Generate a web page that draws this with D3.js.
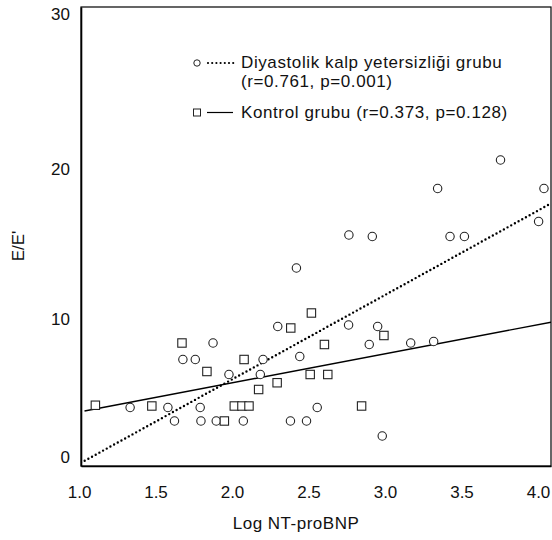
<!DOCTYPE html>
<html>
<head>
<meta charset="utf-8">
<script src="https://cdn.jsdelivr.net/npm/d3@7"></script>
<style>
  body { margin: 0; background: #fff; }
  svg text { font-family: "Liberation Sans", Arial, sans-serif; fill: #111; }
</style>
</head>
<body>
<div id="chart"></div>
<script>
// Diyastolik kalp yetersizliği grubu (circles)
var dkyX = [1.876, 1.679, 1.760, 1.980, 1.334, 1.581, 1.792, 1.624, 1.797, 1.897,
            2.764, 2.917, 2.421, 2.299, 2.762, 2.952, 2.897, 2.443, 2.203, 2.185,
            2.557, 2.074, 2.382, 2.487, 2.982, 3.755, 3.344, 4.039, 3.425, 3.519,
            4.004, 3.168, 3.318];
var dkyY = [8.4, 7.3, 7.3, 6.3, 4.1, 4.1, 4.1, 3.2, 3.2, 3.2,
            15.6, 15.5, 13.4, 9.5, 9.6, 9.5, 8.3, 7.5, 7.3, 6.3,
            4.1, 3.2, 3.2, 3.2, 2.2, 20.6, 18.7, 18.7, 15.5, 15.5,
            16.5, 8.4, 8.5];

// Kontrol grubu (squares)
var kontrolX = [1.673, 1.836, 1.107, 1.476, 1.950, 2.519, 2.384, 2.993, 2.604, 2.079,
                2.511, 2.626, 2.295, 2.174, 2.015, 2.065, 2.111, 2.847];
var kontrolY = [8.4, 6.5, 4.25, 4.2, 3.2, 10.4, 9.4, 8.9, 8.3, 7.3,
                6.3, 6.3, 5.75, 5.3, 4.2, 4.2, 4.2, 4.2];

// fit lines: intercept, slope
var fitDky = [-5.29, 5.63];
var fitKontrol = [1.86, 1.94];

var xTicks = [1.0, 1.5, 2.0, 2.5, 3.0, 3.5, 4.0];
var yTicks = [0, 10, 20, 30];

var w = 552, h = 540;
var fs = 17;
var svg = d3.select("#chart").append("svg")
    .attr("width", w)
    .attr("height", h);

var xScale = d3.scaleLinear().domain([1.013, 4.085]).range([81, 551]);
var yScale = d3.scaleLinear().domain([0.2, 30.8]).range([466, 7]);

// frame
svg.append("rect")
    .attr("x", 81).attr("y", 7)
    .attr("width", 470).attr("height", 459)
    .attr("fill", "none").attr("stroke", "#000").attr("stroke-width", 1.2);

// axes
var xAxis = d3.axisBottom(xScale).tickValues(xTicks).tickSize(0)
    .tickFormat(d3.format(".1f"));
var gx = svg.append("g").attr("transform", "translate(0,466)").call(xAxis);
gx.select(".domain").attr("stroke", "#000").attr("stroke-width", 1.6);
gx.selectAll("text").attr("font-size", fs).attr("y", 20).attr("dy", "0.71em")
    .attr("font-family", "Liberation Sans, Arial, sans-serif").attr("fill", "#111");

var yAxis = d3.axisLeft(yScale).tickValues(yTicks).tickSize(0);
var gy = svg.append("g").attr("transform", "translate(81,0)").call(yAxis);
gy.select(".domain").attr("stroke", "#000").attr("stroke-width", 1.6);
gy.selectAll("text").attr("font-size", fs).attr("x", -11)
    .attr("font-family", "Liberation Sans, Arial, sans-serif").attr("fill", "#111")
    .attr("dy", function(d) { return d === 0 ? "-0.4em" : (d === 30 ? "0em" : "0.32em"); });

// axis titles
svg.append("text")
    .attr("x", 296).attr("y", 529)
    .attr("text-anchor", "middle")
    .attr("font-size", fs)
    .attr("letter-spacing", "0.5px")
    .text("Log NT-proBNP");

svg.append("text")
    .attr("transform", "translate(24,246) rotate(-90)")
    .attr("text-anchor", "middle")
    .attr("font-size", fs)
    .text("E/E'");

// regression lines
var xDom = xScale.domain();
function fitLine(c, x0) {
    return [[x0, c[0] + c[1] * x0], [xDom[1], c[0] + c[1] * xDom[1]]];
}
var line = d3.line()
    .x(function(d) { return xScale(d[0]); })
    .y(function(d) { return yScale(d[1]); });

svg.append("clipPath").attr("id", "plotclip")
    .append("rect").attr("x", 81).attr("y", 7).attr("width", 470).attr("height", 459);

svg.append("path")
    .datum(fitLine(fitDky, xDom[0]))
    .attr("d", line)
    .attr("clip-path", "url(#plotclip)")
    .attr("fill", "none").attr("stroke", "#000")
    .attr("stroke-width", 2.4)
    .attr("stroke-dasharray", "0,4.2")
    .attr("stroke-linecap", "round");

svg.append("path")
    .datum(fitLine(fitKontrol, 1.036))
    .attr("d", line)
    .attr("clip-path", "url(#plotclip)")
    .attr("fill", "none").attr("stroke", "#000")
    .attr("stroke-width", 1.4);

// points
svg.selectAll(".circ")
    .data(dkyX)
    .enter()
    .append("circle")
    .attr("class", "circ")
    .attr("cx", function(d) { return xScale(d); })
    .attr("cy", function(d, i) { return yScale(dkyY[i]); })
    .attr("r", 4.2)
    .attr("fill", "#fff")
    .attr("stroke", "#222")
    .attr("stroke-width", 1.1);

svg.selectAll(".sq")
    .data(kontrolX)
    .enter()
    .append("rect")
    .attr("class", "sq")
    .attr("x", function(d) { return xScale(d) - 4.2; })
    .attr("y", function(d, i) { return yScale(kontrolY[i]) - 4.2; })
    .attr("width", 8.4)
    .attr("height", 8.4)
    .attr("fill", "#fff")
    .attr("stroke", "#222")
    .attr("stroke-width", 1.1);

// legend
var lg = svg.append("g").attr("font-size", fs);
lg.append("circle").attr("cx", 197).attr("cy", 63).attr("r", 3.2)
    .attr("fill", "#fff").attr("stroke", "#222").attr("stroke-width", 1);
lg.append("line").attr("x1", 208).attr("y1", 63).attr("x2", 234).attr("y2", 63)
    .attr("stroke", "#000").attr("stroke-width", 2.2)
    .attr("stroke-dasharray", "0,4.2").attr("stroke-linecap", "round");
lg.append("text").attr("x", 241).attr("y", 68).attr("letter-spacing", "0.6px")
    .text("Diyastolik kalp yetersizliği grubu");
lg.append("text").attr("x", 241).attr("y", 87).attr("letter-spacing", "0.6px")
    .text("(r=0.761, p=0.001)");

lg.append("rect").attr("x", 193.5).attr("y", 109).attr("width", 7).attr("height", 7)
    .attr("fill", "#fff").attr("stroke", "#222").attr("stroke-width", 1);
lg.append("line").attr("x1", 207).attr("y1", 112.5).attr("x2", 233).attr("y2", 112.5)
    .attr("stroke", "#000").attr("stroke-width", 1.2);
lg.append("text").attr("x", 241).attr("y", 118).attr("letter-spacing", "0.6px")
    .text("Kontrol grubu (r=0.373, p=0.128)");
</script>
</body>
</html>
